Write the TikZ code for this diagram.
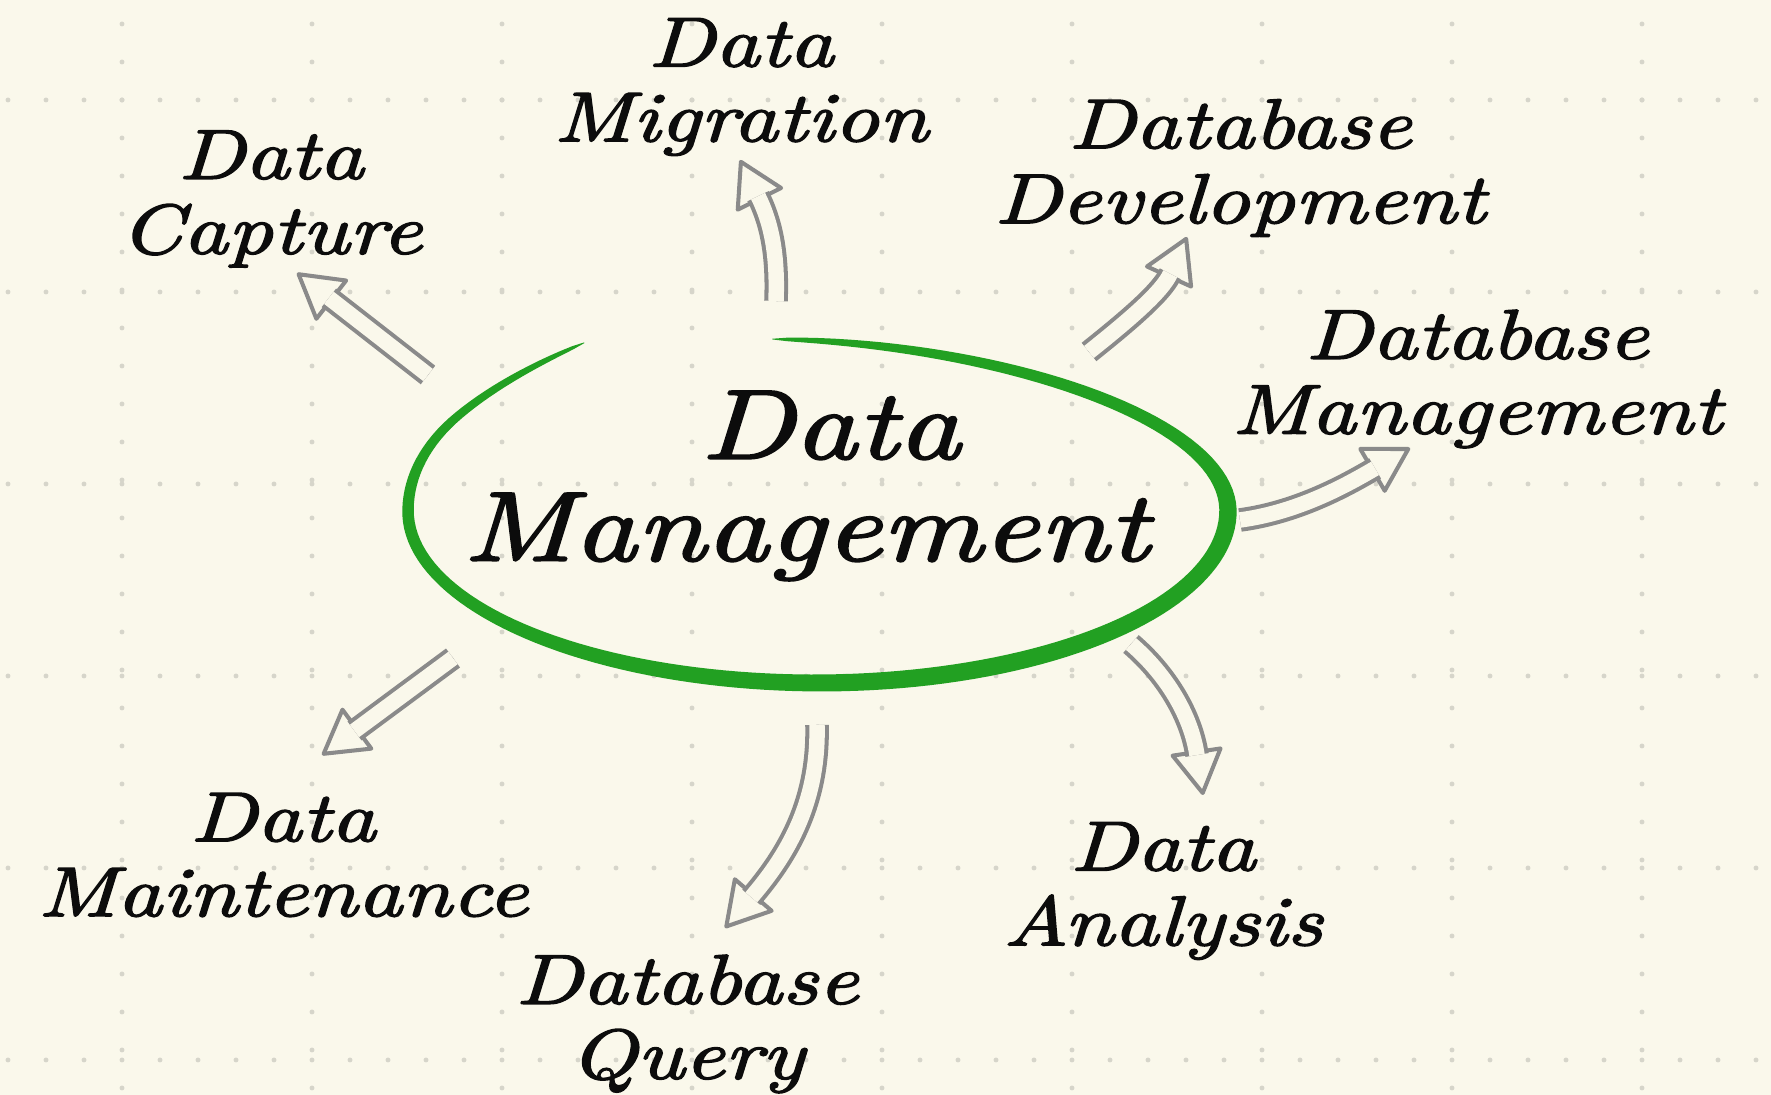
\documentclass[tikz,border=0pt]{standalone}
\usepackage{fontspec}
\usepackage{xcolor}
\usepackage{tikz}
\usetikzlibrary{arrows.meta}

\definecolor{paper}{RGB}{250,248,235}
\definecolor{griddot}{RGB}{214,213,202}
\definecolor{ringgreen}{RGB}{34,160,34}
\definecolor{arrowgray}{RGB}{138,138,138}
\definecolor{ink}{RGB}{12,12,12}
\newfontfamily\handfont{lmroman10-italic.otf}[FakeBold=2.2,FakeStretch=1.25]

\begin{document}
\begin{tikzpicture}[
    x=0.01cm, y=-0.01cm,
    every node/.style={font=\handfont, text=ink},
    topic/.style ={align=center, inner sep=0pt,
                   font=\handfont\fontsize{20}{21.3}\selectfont},
    hub/.style   ={align=center, inner sep=0pt,
                   font=\handfont\fontsize{28}{29}\selectfont},
    hollow/.style={draw=arrowgray, line width=1.15pt, line join=round,
                   -{Triangle[round,fill=paper,length=13.5pt,width=15.5pt]},
                   postaction={draw=arrowgray, double=paper,
                               double distance=4.4pt, -, shorten >=11.5pt}},
    declare function={
      ringh(\pp)=8.5*pow(max(0.0004,sin(0.5438*(\pp-117))),0.4)*(1+0.15*cos(\pp));
      ringx(\pp,\ww)=818+(410+\ww)*cos(\pp)-60*pow(max(0,sin(\pp)),2);
      ringy(\pp,\ww)=511-(172+\ww)*sin(\pp)-15*pow(max(0,1-(\pp-117)/30),2);
    },
  ]
  \useasboundingbox (0,0) rectangle (1771,1095);
  \fill[paper] (0,0) rectangle (1771,1095);

  % --- dotted grid paper ---
  \foreach \gy in {100,292,484,676,868,1060}
    \foreach \gx in {8,46,...,1770}
      \fill[griddot] (\gx,\gy) circle (0.7pt);
  \foreach \gx in {122,312,...,1771}
    \foreach \gy in {24,62,...,1095}
      \fill[griddot] (\gx,\gy) circle (0.7pt);

  % --- brush ring round the hub ---
  \fill[ringgreen]
    plot[domain=117:448, samples=160, variable=\ang]
      ({ringx(\ang,ringh(\ang))},{ringy(\ang,ringh(\ang))})
    -- plot[domain=448:117, samples=160, variable=\ang]
      ({ringx(\ang,-ringh(\ang))},{ringy(\ang,-ringh(\ang))})
    -- cycle;

  % --- hub and topics ---
  \node[hub]   (dm)          at (806,486)  {\hspace*{14pt}Data\\Management};
  \node[topic] (capture)     at (271,199)  {Data\\Capture};
  \node[topic] (migration)   at (741,87)   {Data\\Migration};
  \node[topic] (development) at (1240,168) {Database\\Development};
  \node[topic] (dbmgmt)      at (1477,379) {Database\\Management};
  \node[topic] (analysis)    at (1163,891) {Data\\Analysis};
  \node[topic] (query)       at (687,1024) {Database\\Query};
  \node[topic] (maintenance) at (283,855)  {Data\\Maintenance};

  % --- arrow ends ---
  \coordinate (capT) at (428,375);  \coordinate (capH) at (297,273);
  \coordinate (migT) at (776,301);  \coordinate (migH) at (740,160);
  \coordinate (devT) at (1089,352); \coordinate (devH) at (1187,237);
  \coordinate (dbmT) at (1240,520); \coordinate (dbmH) at (1410,448);
  \coordinate (anaT) at (1131,644); \coordinate (anaH) at (1203,795);
  \coordinate (qryT) at (817,725);  \coordinate (qryH) at (725,928);
  \coordinate (mntT) at (453,658);  \coordinate (mntH) at (322,755);

  % --- hollow arrows out of the ring ---
  \draw[hollow] (capT) -- (capH);
  \draw[hollow] (migT) .. controls +(2,-50) and +(30,60) .. (migH);
  \draw[hollow] (devT) .. controls +(40,-32) and +(-25,55) .. (devH);
  \draw[hollow] (dbmT) .. controls +(60,-8) and +(-60,35) .. (dbmH);
  \draw[hollow] (anaT) .. controls +(35,30) and +(-12,-80) .. (anaH);
  \draw[hollow] (qryT) .. controls +(2,80) and +(60,-70) .. (qryH);
  \draw[hollow] (mntT) -- (mntH);
\end{tikzpicture}
\end{document}
